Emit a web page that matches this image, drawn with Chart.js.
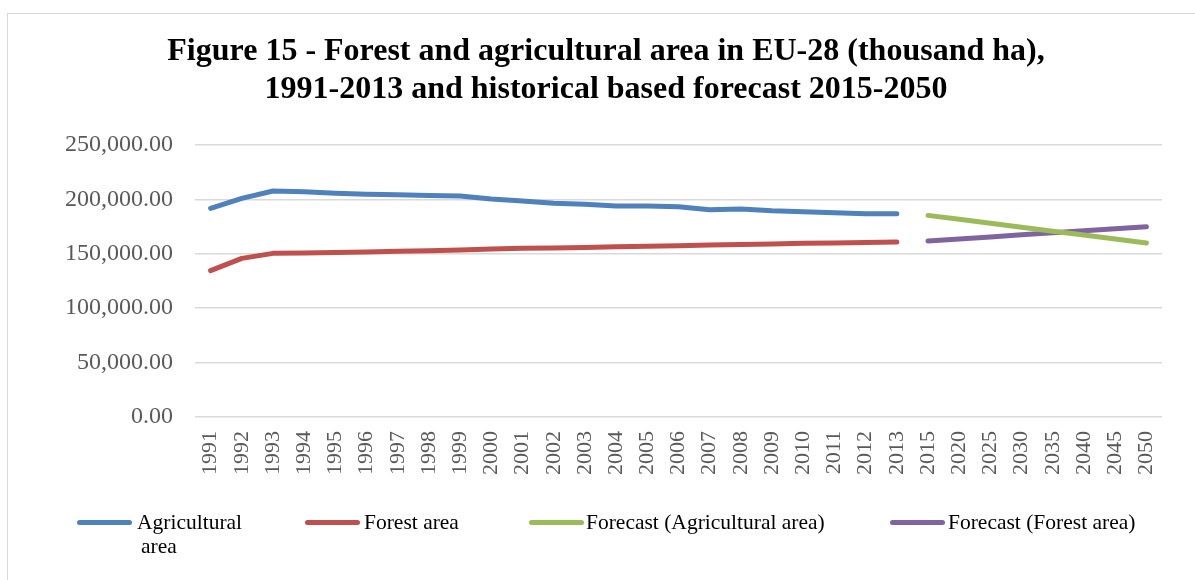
<!DOCTYPE html>
<html>
<head>
<meta charset="utf-8">
<script src="https://cdn.jsdelivr.net/npm/chart.js@4"></script>
<style>
  html, body { margin:0; padding:0; background:#fff; }
  body { width:1195px; height:580px; position:relative; overflow:hidden; font-family:"Liberation Serif","DejaVu Serif",serif; }
  #frame { position:absolute; left:7px; top:13px; width:1300px; height:700px; border-left:1.5px solid #d9d9d9; border-top:1.5px solid #d9d9d9; }
  #title { position:absolute; left:0; top:30px; width:1212px; text-align:center; font-weight:bold; font-size:32px; line-height:38px; color:#000; }
  #chart { position:absolute; left:0; top:0; }
  .lg-line { position:absolute; height:5px; border-radius:3px; }
  .lg-text { position:absolute; font-size:21.5px; line-height:24px; color:#000; white-space:nowrap; }
</style>
</head>
<body>
<div id="frame"></div>
<canvas id="chart" width="1195" height="580"></canvas>
<div id="title">Figure 15 - Forest and agricultural area in EU-28 (thousand ha),<br>1991-2013 and historical based forecast 2015-2050</div>

<div class="lg-line" style="left:77px;top:519.5px;width:55px;background:#4F81BD"></div>
<div class="lg-text" style="left:141px;top:510px;text-indent:-4px;white-space:normal;width:112px">Agricultural area</div>
<div class="lg-line" style="left:305px;top:519.5px;width:55px;background:#C0504D"></div>
<div class="lg-text" style="left:364px;top:510px">Forest area</div>
<div class="lg-line" style="left:529px;top:519.5px;width:55px;background:#9BBB59"></div>
<div class="lg-text" style="left:586px;top:510px">Forecast (Agricultural area)</div>
<div class="lg-line" style="left:890px;top:519.5px;width:55px;background:#8064A2"></div>
<div class="lg-text" style="left:948px;top:510px">Forecast (Forest area)</div>

<script>
const years = ['1991','1992','1993','1994','1995','1996','1997','1998','1999','2000','2001','2002','2003','2004','2005','2006','2007','2008','2009','2010','2011','2012','2013','2015','2020','2025','2030','2035','2040','2045','2050'];

const agriculturalArea = [191800, 201000, 207700, 207100, 205600, 204700, 204300, 203600, 203100, 200400, 198500, 196400, 195500, 193900, 193900, 193300, 190500, 191200, 189600, 188700, 187800, 186900, 186900];
const forestArea = [134500, 145800, 150400, 150700, 151300, 151700, 152300, 152900, 153600, 154400, 155000, 155400, 155900, 156400, 156900, 157500, 158100, 158600, 159100, 159600, 160000, 160400, 160800];
const forecastAgricultural = [185300, 181700, 178100, 174400, 170800, 167200, 163600, 160000];
const forecastForest = [161800, 163700, 165500, 167400, 169300, 171200, 173000, 174900];

const yTicks = [0, 50000, 100000, 150000, 200000, 250000];

const nHist = agriculturalArea.length;
const nFc = forecastAgricultural.length;
const pad = n => new Array(n).fill(null);

const serif = '"Liberation Serif", "DejaVu Serif", serif';

function ds(label, data, color) {
  return {
    label, data,
    borderColor: color, backgroundColor: color,
    borderWidth: 5, borderCapStyle: 'round', borderJoinStyle: 'round',
    pointRadius: 0, pointHoverRadius: 0, tension: 0, spanGaps: false, fill: false
  };
}

new Chart(document.getElementById('chart'), {
  type: 'line',
  data: {
    labels: years,
    datasets: [
      ds('Agricultural area', agriculturalArea.concat(pad(nFc)), '#4F81BD'),
      ds('Forest area', forestArea.concat(pad(nFc)), '#C0504D'),
      ds('Forecast (Agricultural area)', pad(nHist).concat(forecastAgricultural), '#9BBB59'),
      ds('Forecast (Forest area)', pad(nHist).concat(forecastForest), '#8064A2')
    ]
  },
  options: {
    responsive: false,
    animation: false,
    events: [],
    layout: { padding: { left: 0, right: 33, top: 145, bottom: 0 } },
    plugins: { legend: { display: false }, title: { display: false }, tooltip: { enabled: false } },
    scales: {
      x: {
        type: 'category',
        offset: true,
        grid: { display: false, drawTicks: false },
        border: { display: false },
        ticks: {
          autoSkip: false, maxRotation: 90, minRotation: 90, padding: 14,
          color: '#595959', font: { family: serif, size: 22 }
        },
        afterFit: s => { s.height = 163; }
      },
      y: {
        min: yTicks[0], max: yTicks[yTicks.length - 1],
        afterBuildTicks: s => { s.ticks = yTicks.map(v => ({ value: v })); },
        grid: { color: '#d9d9d9', lineWidth: 1.5, drawTicks: false },
        border: { display: false },
        ticks: {
          padding: 22, color: '#595959', font: { family: serif, size: 24 },
          callback: v => Number(v).toLocaleString('en-US', { minimumFractionDigits: 2, maximumFractionDigits: 2 })
        },
        afterFit: s => { s.width = 195; }
      }
    }
  }
});
</script>
</body>
</html>
